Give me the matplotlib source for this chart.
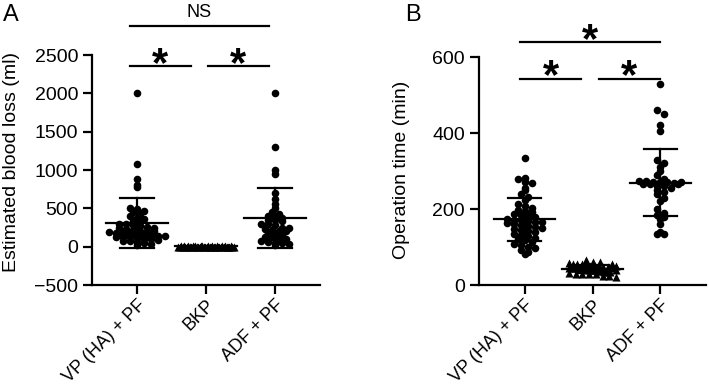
#!/usr/bin/python
# Scatter dot plots (mean +- SD) of estimated blood loss and operation time
# for the three surgical groups, with significance bars on top.

import numpy as np
import matplotlib
matplotlib.use("Agg")
import matplotlib.pyplot as plt

plt.rcParams["font.family"] = ["Liberation Sans", "DejaVu Sans"]

groups = ["VP (HA) + PF", "BKP", "ADF + PF"]

# estimated blood loss (ml)
ebl_vp = [2000, 1080, 880, 800, 780, 510, 490, 470, 450, 420, 400, 380, 360,
          340, 320, 300, 290, 280, 270, 260, 250, 240, 230, 220, 210, 200, 200,
          190, 180, 180, 170, 160, 160, 150, 150, 140, 140, 130, 120, 120, 110,
          100, 100, 90, 80, 70, 60, 50, 40, 20]
ebl_bkp = [0, 0, 5, 0, 10, 0, 0, 5, 0, 0, 10, 0, 5, 0, 0, 0, 5, 10, 0, 0,
           0, 5, 0, 0, 10, 0, 0, 5, 0, 0, 0, 10, 0, 5, 0, 0, 0, 5, 0, 0]
ebl_adf = [2000, 1300, 1000, 950, 700, 620, 560, 500, 450, 420, 400, 400, 380,
           350, 350, 330, 300, 300, 280, 250, 250, 230, 220, 200, 200, 180,
           150, 150, 130, 120, 100, 100, 80, 60, 50, 50, 30, 20]

# operation time (min)
opt_vp = [335, 282, 278, 270, 268, 255, 250, 240, 232, 225, 212, 208, 202, 198,
          195, 192, 188, 185, 182, 178, 175, 172, 170, 168, 165, 165, 162, 160,
          158, 155, 152, 150, 148, 145, 142, 140, 135, 132, 128, 125, 120, 118,
          112, 108, 105, 100, 98, 92, 88, 82]
opt_bkp = [65, 60, 60, 58, 55, 55, 55, 52, 50, 50, 50, 48, 48, 45, 45, 45, 45,
           42, 42, 40, 40, 40, 40, 38, 38, 35, 35, 35, 32, 30, 30, 30, 28, 25,
           25, 20, 55, 50, 45, 40]
opt_adf = [530, 460, 450, 420, 405, 330, 320, 310, 300, 290, 280, 275, 275,
           270, 270, 270, 268, 265, 265, 260, 260, 255, 250, 245, 240, 230, 220,
           200, 190, 185, 180, 175, 160, 140, 135, 135, 270, 265]

ebl_ticks = [-500, 0, 500, 1000, 1500, 2000, 2500]
opt_ticks = [0, 200, 400, 600]

W, H = 709, 389
LW = 1.6

def main():
    fig = plt.figure(figsize=(W/100, H/100), dpi=100)
    axA = fig.add_axes([92/W, 1-285/H, (320-92)/W, (285-55)/H])
    axB = fig.add_axes([479/W, 1-285/H, (706-479)/W, (285-57)/H])

    draw_panel(axA, [ebl_vp, ebl_bkp, ebl_adf], ebl_ticks, (-500, 2500),
               (-0.652, 2.652), "Estimated blood loss (ml)", row_h=55,
               max_half=0.40)
    draw_panel(axB, [opt_vp, opt_bkp, opt_adf], opt_ticks, (0, 600),
               (-0.67, 2.67), "Operation time (min)", row_h=13,
               max_half=0.35)
    axA.yaxis.set_label_coords(-0.316, 0.535)
    axB.yaxis.set_label_coords(-0.304, 0.504)

    # significance bars
    sig_bar(axA, -0.1, 1.91, 2878, "NS", 3050, star=False)
    sig_bar(axA, -0.1, 0.78, 2357, "*", 2540)
    sig_bar(axA, 1.03, 1.91, 2357, "*", 2540)
    sig_bar(axB, -0.06, 1.99, 639, "*", 676)
    sig_bar(axB, -0.06, 0.83, 542, "*", 581)
    sig_bar(axB, 1.09, 1.99, 542, "*", 581)

    fig.text(3/W, 1-4/H, "A", fontsize=17, va="top", ha="left")
    fig.text(405/W, 1-4/H, "B", fontsize=17, va="top", ha="left")

    fig.savefig("out.png", dpi=100)

def swarm_offsets(ax, values, row_h, max_half, diam_px=7.0):
    """
    GraphPad-like layout: values binned in rows, points spread sideways.
    """
    x0, x1 = ax.get_xlim()
    px_per_unit = ax.get_position().width * W / (x1 - x0)
    dx = diam_px / px_per_unit
    values = np.asarray(values, float)
    offs = np.zeros(len(values))
    rows = np.round(values / row_h).astype(int)
    for r in np.unique(rows):
        idx = np.where(rows == r)[0]
        n = len(idx)
        step = min(dx, 2*max_half/max(n-1, 1))
        offs[idx] = (np.arange(n) - (n-1)/2) * step
    return offs

def draw_panel(ax, data, ticks, ylim, xlim, ylabel, row_h, max_half):
    ax.set_xlim(xlim)
    ax.set_ylim(ylim)
    markers = ["o", "^", "o"]
    sizes = [30, 34, 30]
    for i, vals in enumerate(data):
        offs = swarm_offsets(ax, vals, row_h, max_half)
        ax.scatter(i + offs, vals, s=sizes[i], marker=markers[i],
                   color="black", linewidths=0, zorder=2, clip_on=False)
        m = np.mean(vals); sd = np.std(vals, ddof=1)
        ax.plot([i-0.45, i+0.45], [m, m], color="black", lw=LW, zorder=3)
        ax.plot([i, i], [m-sd, m+sd], color="black", lw=LW, zorder=3)
        ax.plot([i-0.24, i+0.24], [m+sd, m+sd], color="black", lw=LW, zorder=3)
        ax.plot([i-0.24, i+0.24], [m-sd, m-sd], color="black", lw=LW, zorder=3)

    ax.set_yticks(ticks)
    ax.set_xticks(range(len(groups)))
    ax.set_xticklabels(groups, rotation=45, ha="right", rotation_mode="anchor",
                       fontsize=13)
    ax.set_ylabel(ylabel, fontsize=14)
    ax.tick_params(axis="y", labelsize=14)
    ax.tick_params(axis="x", pad=2)
    ax.tick_params(width=LW, length=6.5, direction="out")
    ax.spines["top"].set_visible(False)
    ax.spines["right"].set_visible(False)
    ax.spines["left"].set_linewidth(LW)
    ax.spines["bottom"].set_linewidth(LW)

def sig_bar(ax, x0, x1, y, label, label_y, star=True):
    ax.plot([x0, x1], [y, y], color="black", lw=LW, clip_on=False)
    xm = (x0 + x1) / 2
    if star:
        fs = 30
        ax.annotate(label, (xm, label_y), xytext=(0, -0.575*fs),
                    textcoords="offset points", ha="center", va="baseline",
                    fontsize=fs, fontweight="bold", annotation_clip=False)
    else:
        ax.text(xm, label_y, label, ha="center", va="center", fontsize=13,
                clip_on=False)

if __name__ == "__main__":
    main()
